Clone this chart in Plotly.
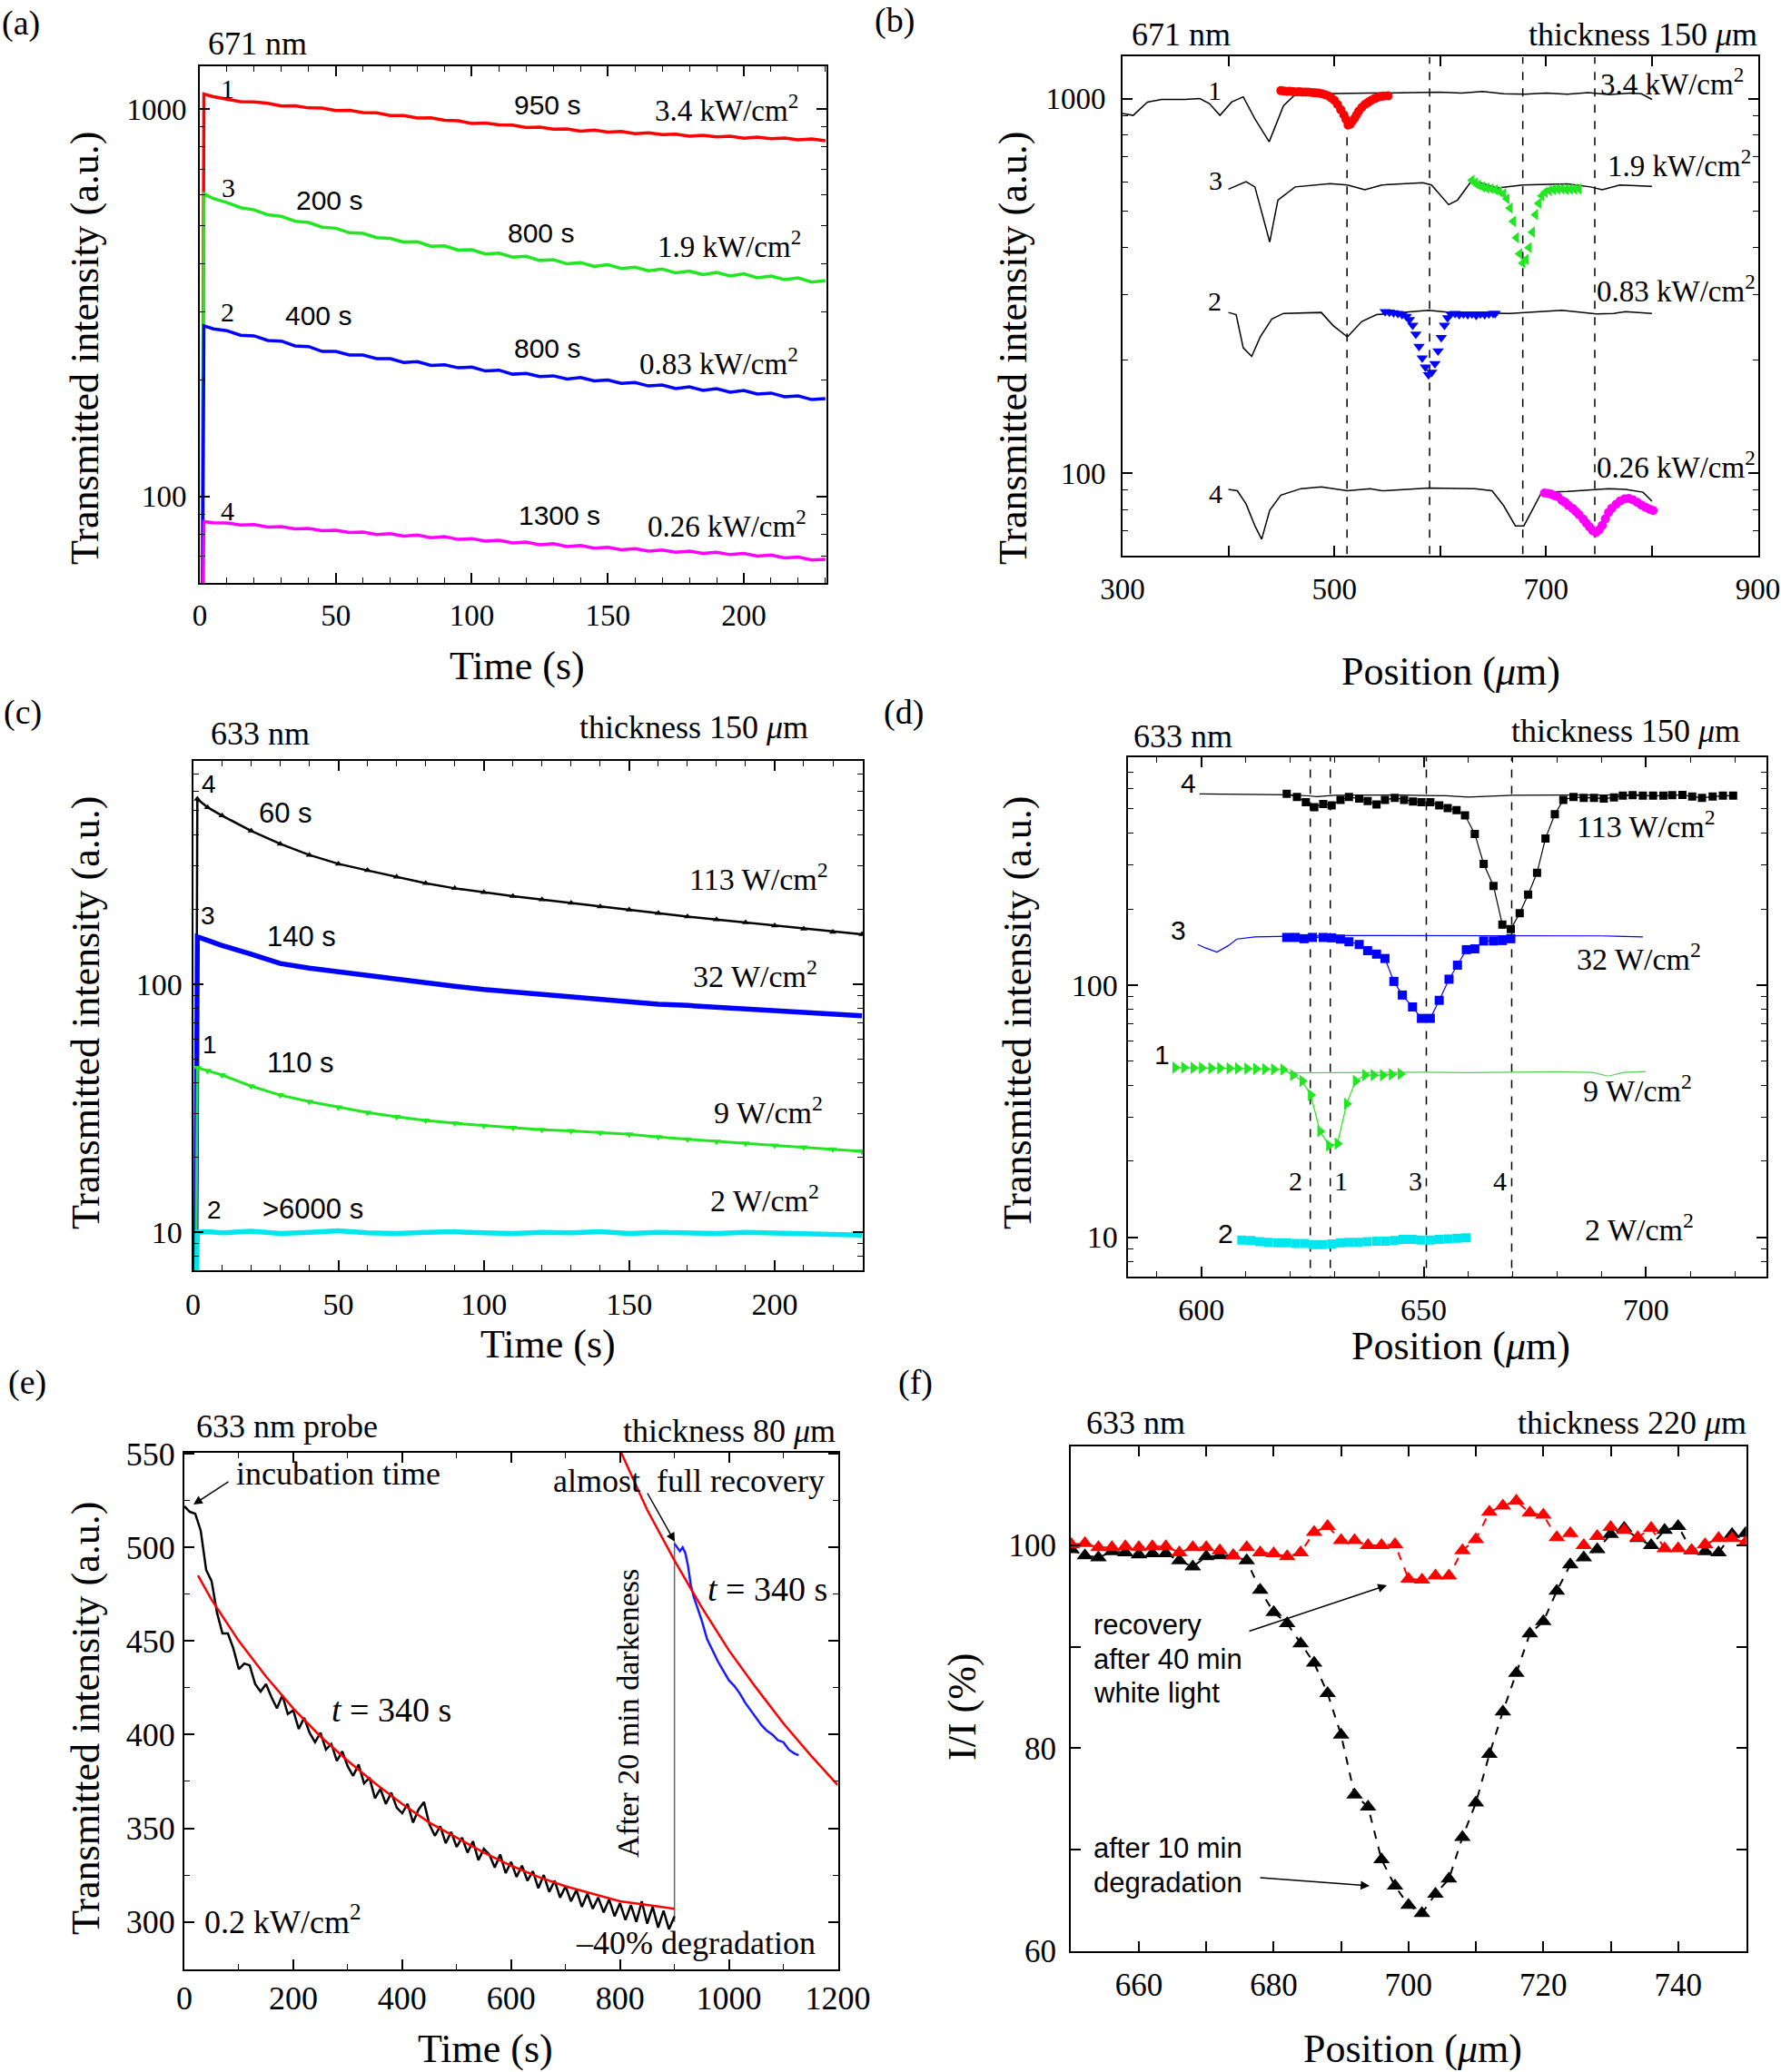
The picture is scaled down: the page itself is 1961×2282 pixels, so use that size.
import plotly.graph_objects as go

W, H = 1961, 2282
SERIF = "Liberation Serif, Times New Roman, DejaVu Serif, serif"
SANS = "Liberation Sans, Arial, DejaVu Sans, sans-serif"
RED, GREEN, BLUE, MAG, CYAN = "#ff0000", "#22e622", "#0000ff", "#ff00ff", "#00e6ee"

# ---------------- (a) 671 nm, time traces ----------------
A_T = [0.8, 1.5, 5] + list(range(10, 235, 5))
A_1 = [30, 1095, 1078, 1062, 1046, 1045, 1036, 1020, 1021, 1008, 1007, 993, 994, 981, 979, 964,
       963, 949, 950, 937, 934, 919, 921, 912, 910, 897, 899, 889, 890, 878, 884, 873, 876,
       865, 869, 860, 862, 852, 857, 849, 852, 842, 847, 840, 843, 834, 838, 829]
A_3 = [30, 605, 588, 574, 557, 550, 534, 529, 514, 510, 496, 493, 480, 478, 466, 464, 454, 455,
       443, 444, 433, 434, 423, 425, 415, 417, 407, 409, 399, 402, 393, 397, 388, 391, 383, 387,
       378, 382, 374, 379, 371, 376, 367, 371, 363, 367, 358, 361]
A_2 = [30, 276, 271, 268, 261, 260, 253, 252, 245, 244, 237, 237, 232, 232, 227, 227, 222, 223,
       218, 219, 215, 216, 211, 212, 207, 208, 204, 205, 201, 203, 199, 200, 196, 197, 193, 194,
       190, 192, 188, 190, 186, 188, 184, 185, 181, 182, 178, 179]
A_4 = [30, 86.2, 85.6, 85.5, 84.4, 84.6, 83.4, 83.6, 82.5, 82.7, 81.6, 81.8, 80.7, 81.0, 79.8,
       80.2, 79.0, 79.5, 78.3, 78.8, 77.5, 77.9, 76.7, 77.1, 75.9, 76.3, 75.1, 75.6, 74.3, 74.8,
       73.6, 74.0, 72.9, 73.4, 72.3, 72.8, 71.8, 72.3, 71.3, 71.8, 70.8, 71.3, 70.2, 70.6, 69.4,
       69.8, 68.6, 68.9]

# ---------------- (b) 671 nm, profiles ----------------
B1_LX = [300, 310, 323.5, 337, 359, 373, 382, 392, 403, 414, 425, 438.5, 452, 463, 485, 520,
         560, 600, 620, 640, 660, 680, 700, 720, 740, 760, 780, 790, 800]
B1_LY = [912, 902, 979, 995, 995, 1000, 970, 902, 979, 1011, 883, 767, 957, 1025, 1030, 1033,
         1035, 1040, 1035, 1045, 1030, 1028, 1035, 1028, 1038, 1025, 1035, 1030, 995]
B3_LX = [400, 416.6, 425, 431, 439, 446.7, 463, 496, 512.4, 528.8, 545, 583.6, 591.8, 608,
         616.4, 630, 654.7, 677.7, 720, 742, 753, 769.7, 800]
B3_LY = [573, 600, 581, 500, 414, 536, 581, 593, 588, 571, 588, 596, 588, 521, 536, 605, 577,
         588, 592, 581, 571, 588, 583]
B2_LX = [400, 407.3, 414, 422, 430, 441, 452, 487.7, 498.7, 512.4, 526, 539.8, 589, 611,
         665.7, 715, 747.6, 764, 775, 800]
B2_LY = [268.5, 265, 216, 205, 231, 258, 267, 268.5, 248, 231, 254, 265, 272, 268.5, 267,
         272, 266, 267, 270, 267]
B4_LX = [400, 408.4, 416.6, 425, 431.4, 439, 449.5, 468.6, 487.7, 512.4, 534, 545, 589, 633,
         649, 660, 671, 679, 687.6, 695.8, 720.4, 758.8, 775, 791.6, 800]
B4_LY = [90.5, 89.7, 82.8, 72.3, 66.6, 79.5, 87.3, 90.9, 91.9, 89.7, 90.9, 89.7, 91.2, 90.9,
         89.7, 81.8, 72.3, 72.3, 80.3, 88.9, 89.3, 90.9, 90.5, 88.9, 84.1]
B1_MX = [449.5, 452, 455, 458, 461, 464, 467, 470, 473, 476, 479, 482, 485, 488, 491, 494,
         497, 500, 503, 506, 509, 511, 513, 515, 517, 519, 521, 523, 526, 529, 532, 535, 538,
         541, 544, 547, 550.7]
B1_MY = [1050, 1048, 1045, 1046, 1044, 1042, 1043, 1040, 1041, 1040, 1038, 1036, 1035, 1030,
         1025, 1018, 1005, 990, 965, 935, 905, 880, 850, 855, 870, 885, 905, 925, 948, 965,
         978, 990, 1000, 1008, 1013, 1016, 1017]
B3_MX = [630, 633, 636, 640, 644, 648, 652, 656, 660, 663, 666, 669, 672, 675, 678, 681, 684,
         687, 690, 693, 696, 699, 703, 707, 711, 715, 719, 723, 727, 731]
B3_MY = [605, 595, 588, 581, 577, 575, 571, 565, 557, 540, 510, 470, 425, 385, 364, 372, 400,
         440, 490, 525, 550, 562, 568, 572, 573, 574, 572, 573, 573, 574]
B2_MX = [548, 552, 556, 560, 564, 568, 571, 574, 577, 580, 583, 586, 589, 592, 595, 598, 601,
         604, 607, 610, 614, 618, 622, 626, 630, 634, 638, 642, 646, 650, 652]
B2_MY = [270, 269, 268, 267, 265, 262, 257, 248, 235, 218, 203, 192, 183, 186, 196, 212, 230,
         248, 260, 266, 267, 265, 266, 265, 266, 264, 266, 265, 266, 267, 267]
B4_MX = [698.5, 702, 705, 708, 711, 715, 718, 721, 725, 728, 731, 735, 738, 741, 744, 747,
         750, 753, 756, 759, 762, 766, 770, 774, 778, 782, 786, 790, 794, 798, 801]
B4_MY = [88.5, 88.2, 87.8, 87.0, 86.5, 84.5, 83.5, 82.0, 80.5, 79.0, 77.5, 75.3, 73.5, 71.8,
         70.2, 69.4, 70.5, 72.5, 75.5, 78.5, 80.5, 82.5, 84.3, 85.3, 85.5, 84.8, 83.6, 82.2,
         81.0, 80.0, 79.5]
B_DASH = [512, 590, 678, 746]
B_DASH_TOP = [850, 1290, 1290, 1290]

# ---------------- (c) 633 nm, time traces ----------------
C_T = [0.8, 1.5, 5, 10, 20, 30, 40, 50, 60, 70, 80, 90, 100, 110, 120, 130, 140, 150, 160,
       170, 180, 190, 200, 210, 220, 230]
C_4 = [3, 556, 515, 477, 414, 367, 331, 305, 287, 270, 255, 243, 234, 226, 219, 212, 205,
       199, 193, 187, 182, 177, 172, 167, 162, 158.5]
C_3 = [3, 155, 150, 143, 132, 121, 116, 112, 108, 105, 101, 98, 95.2, 93, 90.6, 88.4, 86.2,
       84.2, 83, 82, 80.8, 79.5, 78.3, 77, 75.7, 74.5]
C_1 = [3, 46.0, 44.8, 43.0, 38.8, 35.7, 33.6, 31.9, 30.4, 29.2, 28.2, 27.5, 26.9, 26.4, 25.9,
       25.6, 25.2, 24.8, 24.2, 23.7, 23.2, 22.8, 22.4, 22.0, 21.6, 21.2]
C_2 = [3, 10.0, 10.05, 9.95, 10.1, 9.9, 10.0, 10.15, 9.95, 9.9, 10.0, 10.05, 9.95, 9.9, 10.0,
       9.95, 10.05, 9.9, 10.0, 9.95, 9.9, 10.0, 9.95, 9.85, 9.9, 9.75]

# ---------------- (d) 633 nm, profiles ----------------
D4_LX = [599.6, 605, 610, 615, 620, 624, 626, 630, 635, 640, 645, 650, 655, 660, 665, 670,
         680, 690, 700]
D4_LY = [572, 570, 569, 568, 567, 562, 558, 565, 566, 565, 566, 564, 563, 556, 562, 565, 566,
         566, 567]
D4_MX = [619.2, 621.5, 623.5, 625.4, 627.4, 629.3, 631.3, 633.2, 635.5, 637.4, 639.4, 641.3,
         643.5, 645.6, 647.6, 649.5, 651.5, 653.5, 655.4, 657.4, 659.3, 661.5, 663.5, 665.7,
         667.7, 669.6, 671.6, 673.5, 675.5, 677.4, 679.5, 681.4, 683.7, 686, 688.3, 690.5,
         692.8, 694.8, 697, 699.3, 701.6, 703.9, 705.9, 708.2, 710.4, 712.6, 715, 717.3, 719.6]
D4_MY = [572, 556, 530, 507, 522, 515, 541, 556, 548, 536, 519, 541, 552, 541, 534, 530, 530,
         515, 503, 493, 470, 397, 302, 247, 173.4, 166.5, 192.5, 228, 278.6, 381, 475, 541, 556,
         552, 552, 548, 554, 563, 565, 563, 563, 563, 565, 567, 558, 552, 558, 563, 563]
D3_LX = [599.2, 601, 603.5, 606, 608, 612, 620, 630, 640, 650, 660, 670, 680, 690, 699.3]
D3_LY = [144.7, 140, 135, 143, 152, 155, 156, 157, 157, 157, 157, 157, 157, 156.5, 155]
D3_MX = [619.2, 621.1, 623.1, 625, 627.4, 629.3, 631.3, 633.2, 635.5, 637.4, 639.4, 641.3,
         643.3, 645.2, 647.5, 649.5, 651.5, 653.5, 655.7, 657.6, 659.6, 661.5, 663.5, 665.7,
         667.7, 669.6]
D3_MY = [154.3, 154.3, 152.5, 154.3, 154.3, 153.7, 152, 148.3, 144.7, 136.8, 132.5, 127.3,
         103.3, 91.2, 81.8, 73.7, 73.7, 86.9, 105.4, 119.8, 138, 139, 149.4, 149.4, 150, 152.5]
D1_LX = [619.8, 630, 640, 650, 660, 670, 680, 688, 691.5, 695, 700]
D1_LY = [44.8, 44.9, 45, 45.1, 44.9, 45.2, 45.3, 45.0, 43.5, 45, 45.4]
D1_MX = [594.1, 596.1, 598.2, 600.1, 602.2, 604.2, 606.3, 608.2, 610.3, 612.3, 614.3, 616.3,
         618.4, 620.6, 622.7, 624.6, 626.7, 628.7, 630.6, 632.7, 634.7, 636.8, 638.7, 640.8,
         642.8, 644.8]
D1_MY = [47.0, 47.0, 46.9, 46.9, 46.8, 46.8, 46.7, 46.7, 46.6, 46.5, 46.4, 46.3, 46.2, 43.9,
         41.6, 36.6, 26.3, 23.1, 23.5, 33.8, 41.6, 43.9, 43.9, 43.9, 44.2, 44.4]
D2_MX = [609.1, 611.1, 613.1, 615.1, 617.2, 619.2, 621.2, 623.2, 625.2, 627.2, 629.3, 631.3,
         633.3, 635.3, 637.3, 639.4, 641.4, 643.4, 645.4, 647.4, 649.4, 651.5, 653.5, 655.5,
         657.5, 659.5]
D2_MY = [9.75, 9.7, 9.6, 9.55, 9.5, 9.5, 9.45, 9.45, 9.35, 9.35, 9.4, 9.5, 9.55, 9.55, 9.6,
         9.65, 9.65, 9.7, 9.8, 9.8, 9.75, 9.75, 9.8, 9.85, 9.9, 9.95]
D_DASH = [624.5, 629, 650.6, 669.8]
D_DASH_LABELS = ["2", "1", "3", "4"]

# ---------------- (e) 633 nm probe, degradation & recovery ----------------
E_T = list(range(0, 910, 10))
E_BLACK = [522, 519, 518, 509, 488, 482, 465, 454, 454, 446, 435, 438, 437, 427, 423, 427,
           420, 414, 421, 411, 413, 403, 409, 401, 396, 401, 392, 395, 386, 391, 383, 378,
           384, 374, 377, 366, 371, 363, 369, 361, 358, 363, 353, 360, 364, 352, 346, 351,
           342, 348, 340, 345, 337, 343, 333, 339, 336, 329, 336, 326, 332, 324, 330, 322,
           327, 318, 325, 316, 322, 313, 319, 311, 317, 308, 315, 307, 313, 305, 312, 303,
           310, 301, 309, 300, 311, 299, 308, 297, 306, 296, 303]
E_GRAY_T = [900, 900]
E_GRAY_V = [300, 503]
E_BLUE_T = [900, 905, 910, 915, 920, 925, 930, 935, 940, 945, 950, 960, 970, 980, 990, 1000,
            1010, 1020, 1030, 1040, 1050, 1060, 1070, 1080, 1090, 1100, 1110, 1120, 1128]
E_BLUE = [502, 500, 498, 500, 497, 490, 480, 474, 470, 466, 461, 451, 445, 439, 434, 429, 426,
          422, 417, 413, 409, 405, 402, 400, 397, 396, 392, 390, 389]
E_FIT1_T = [25, 50, 100, 150, 200, 250, 300, 350, 400, 450, 500, 550, 600, 650, 700, 750, 800,
            850, 900]
E_FIT1 = [485, 472, 450, 431, 414, 399, 386, 374, 363, 353, 345, 337, 330, 324, 319, 315, 311,
          309, 307]
E_FIT2_T = [800, 850, 900, 950, 1000, 1050, 1100, 1150, 1200]
E_FIT2 = [552, 520, 493, 468, 445, 425, 406, 389, 373]

# ---------------- (f) 633 nm, 220 um ----------------
F_X = list(range(650, 752, 2))
F_DEG = [99.6, 99.0, 98.8, 99.4, 99.3, 99.1, 99.2, 99.2, 98.5, 97.9, 98.9, 99.0, 99.0, 98.5,
         95.6, 93.4, 92.3, 90.3, 88.4, 85.4, 81.3, 75.4, 74.2, 69.0, 66.4, 64.5, 63.7, 65.6,
         67.1, 71.2, 74.6, 79.4, 83.6, 87.4, 91.3, 92.5, 95.5, 98.1, 98.8, 99.6, 101.1, 101.7,
         100.7, 100.0, 101.5, 101.9, 99.5, 99.4, 99.3, 101.1, 101.2]
F_REC = [100.1, 100.2, 99.8, 99.8, 99.9, 99.8, 99.9, 99.9, 99.3, 99.8, 99.8, 99.5, 99.0, 99.8,
         99.3, 99.2, 98.9, 99.3, 101.3, 101.9, 100.5, 100.5, 100.0, 100.0, 100.1, 96.7, 96.6,
         97.0, 97.0, 99.5, 100.6, 103.3, 103.9, 104.4, 103.2, 103.0, 100.8, 101.2, 100.0,
         100.9, 101.8, 101.5, 100.8, 101.7, 99.7, 99.7, 99.5, 100.1, 100.7, 100.7, 100.3]

LOG_MINOR_HI = [60, 70, 80, 90, 200, 300, 400, 500, 600, 700, 800, 900]
LOG_MINOR_LO = [8, 9, 20, 30, 40, 50, 60, 70, 80, 90, 200, 300, 400, 500, 600, 700]

fig = go.Figure()


def line(x, y, xa, ya, color, width=2, mode="lines", marker=None, dash=None):
    d = dict(x=x, y=y, xaxis=xa, yaxis=ya, mode=mode, showlegend=False,
             line=dict(color=color, width=width, dash=dash), hoverinfo="skip")
    if marker:
        d["marker"] = marker
    fig.add_trace(go.Scatter(**d))


# (a)
for ys, c in [(A_1, RED), (A_3, GREEN), (A_2, BLUE), (A_4, MAG)]:
    line(A_T, ys, "x", "y", c, 3.5)

# (b)
for i, xv in enumerate(B_DASH):
    line([xv, xv], [55, B_DASH_TOP[i]], "x2", "y2", "black", 1.5, dash="dash")
for lx, ly in [(B1_LX, B1_LY), (B3_LX, B3_LY), (B2_LX, B2_LY), (B4_LX, B4_LY)]:
    line(lx, ly, "x2", "y2", "black", 1.5)
line(B1_MX, B1_MY, "x2", "y2", RED, 1, "markers", dict(symbol="circle", size=10, color=RED))
line(B3_MX, B3_MY, "x2", "y2", GREEN, 1, "markers", dict(symbol="triangle-left", size=11, color=GREEN))
line(B2_MX, B2_MY, "x2", "y2", BLUE, 1, "markers", dict(symbol="triangle-down", size=11, color=BLUE))
line(B4_MX, B4_MY, "x2", "y2", MAG, 1, "markers", dict(symbol="circle", size=10, color=MAG))

# (c)
line(C_T, C_4, "x3", "y3", "black", 2.5, "lines+markers", dict(symbol="triangle-up", size=7, color="black"))
line(C_T, C_3, "x3", "y3", BLUE, 5.5)
line(C_T, C_1, "x3", "y3", GREEN, 3, "lines+markers", dict(symbol="triangle-down", size=8, color=GREEN))
line(C_T, C_2, "x3", "y3", CYAN, 5.5)

# (d)
for xv in D_DASH:
    line([xv, xv], [6.5, 800], "x4", "y4", "black", 1.5, dash="dash")
line(D4_LX, D4_LY, "x4", "y4", "black", 1.2)
line(D4_MX, D4_MY, "x4", "y4", "black", 1.2, "lines+markers", dict(symbol="square", size=9, color="black"))
line(D3_LX, D3_LY, "x4", "y4", BLUE, 1.2)
line(D3_MX, D3_MY, "x4", "y4", BLUE, 1.2, "lines+markers", dict(symbol="square", size=10, color=BLUE))
line(D1_LX, D1_LY, "x4", "y4", "#55cc55", 1.2)
line(D1_MX, D1_MY, "x4", "y4", GREEN, 1.2, "lines+markers", dict(symbol="triangle-right", size=12, color=GREEN))
line(D2_MX, D2_MY, "x4", "y4", CYAN, 1, "markers", dict(symbol="square", size=10, color=CYAN))

# (e)
line(E_GRAY_T, E_GRAY_V, "x5", "y5", "#666666", 1.5)
line(E_T, E_BLACK, "x5", "y5", "black", 2.5)
line(E_BLUE_T, E_BLUE, "x5", "y5", "#1a1aff", 2.5)
line(E_FIT1_T, E_FIT1, "x5", "y5", RED, 2.5)
line(E_FIT2_T, E_FIT2, "x5", "y5", RED, 2.5)

# (f)
line(F_X, F_DEG, "x6", "y6", "black", 2, "lines+markers",
     dict(symbol="triangle-up", size=16, color="black"), dash="dash")
line(F_X, F_REC, "x6", "y6", RED, 2, "lines+markers",
     dict(symbol="triangle-up", size=16, color=RED), dash="dash")


def axis(dom, rng, anchor, tickvals, ticktext=None, minor=None, fs=33, standoff=14, typ="linear"):
    d = dict(domain=dom, range=rng, anchor=anchor, type=typ, showline=True, linecolor="black",
             linewidth=2, mirror="allticks", ticks="inside", ticklen=11, tickwidth=1.6,
             tickcolor="black", tickmode="array", tickvals=tickvals, showgrid=False,
             zeroline=False, automargin=False, fixedrange=True,
             tickfont=dict(family=SERIF, size=fs, color="black"),
             ticklabelstandoff=standoff)
    if ticktext is not None:
        d["ticktext"] = ticktext
    if minor is not None:
        m = dict(ticks="inside", ticklen=6, tickwidth=1.3, tickcolor="black", showgrid=False)
        m.update(minor)
        d["minor"] = m
    return d


def xd(a, b):
    return [a / W, b / W]


def yd(top, bot):
    return [1 - bot / H, 1 - top / H]


layout = dict(
    width=W, height=H, margin=dict(l=0, r=0, t=0, b=0, pad=0, autoexpand=False),
    paper_bgcolor="white", plot_bgcolor="white", showlegend=False,
    xaxis=axis(xd(220, 910), [0, 230.4], "y", [0, 50, 100, 150, 200], minor=dict(dtick=10, tick0=0), standoff=5),
    yaxis=axis(yd(73, 642), [1.777, 3.111], "x", [100, 1000], ["100", "1000"],
               minor=dict(tickmode="array", tickvals=LOG_MINOR_HI), typ="log", standoff=6),
    xaxis2=axis(xd(1236, 1935.5), [300, 900], "y2", [300, 400, 500, 600, 700, 800, 900],
                ["300", "", "500", "", "700", "", "900"], standoff=6),
    yaxis2=axis(yd(62, 612.2), [1.779, 3.113], "x2", [100, 1000], ["100", "1000"],
                minor=dict(tickmode="array", tickvals=LOG_MINOR_HI), typ="log", standoff=10),
    xaxis3=axis(xd(212.5, 950), [0, 230.3], "y3", [0, 50, 100, 150, 200], minor=dict(dtick=10, tick0=0), fs=34, standoff=6),
    yaxis3=axis(yd(837.6, 1398.9), [0.8475, 2.9005], "x3", [10, 100], ["10", "100"],
                minor=dict(tickmode="array", tickvals=LOG_MINOR_LO), typ="log", fs=34, standoff=3),
    xaxis4=axis(xd(1241.5, 1945), [583.4, 727.1], "y4", [600, 650, 700], minor=dict(dtick=10, tick0=590), fs=34, standoff=5),
    yaxis4=axis(yd(834.2, 1406.2), [0.843, 2.902], "x4", [10, 100], ["10", "100"],
                minor=dict(tickmode="array", tickvals=LOG_MINOR_LO), typ="log", fs=34, standoff=2),
    xaxis5=axis(xd(203, 922.5), [0, 1200], "y5", [0, 200, 400, 600, 800, 1000, 1200],
                minor=dict(dtick=100, tick0=0), fs=36, standoff=-1),
    yaxis5=axis(yd(1600.1, 2168.8), [274.7, 550.5], "x5", [300, 350, 400, 450, 500, 550],
                minor=dict(dtick=25, tick0=275), fs=36, standoff=1),
    xaxis6=axis(xd(1179, 1922.7), [649.9, 750.1], "y6", list(range(650, 760, 10)),
                ["", "660", "", "680", "", "700", "", "720", "", "740", ""], fs=35, standoff=5),
    yaxis6=axis(yd(1592.7, 2149.1), [59.95, 109.8], "x6", [60, 70, 80, 90, 100],
                ["60", "", "80", "", "100"], fs=35, standoff=7),
)
fig.update_layout(**layout)

ann = []


def T(text, x, y, size, family=SERIF, xanchor="center", angle=0):
    ann.append(dict(text=text, x=x / W, y=1 - y / H, xref="paper", yref="paper", showarrow=False,
                    font=dict(size=size, family=family, color="black"), xanchor=xanchor,
                    yanchor="middle", textangle=angle))


def ARROW(tx, ty, hx, hy):
    ann.append(dict(text="", x=hx / W, y=1 - hy / H, xref="paper", yref="paper", showarrow=True,
                    ax=tx - hx, ay=ty - hy, arrowhead=2, arrowsize=1.3, arrowwidth=1.5,
                    arrowcolor="black"))


MU = "<i>μ</i>m"
YT = "Transmitted intensity (a.u.)"
# panel letters
for lab, x, y in [("(a)", 23, 25), ("(b)", 985, 22), ("(c)", 25, 784), ("(d)", 995, 784),
                  ("(e)", 30, 1522), ("(f)", 1008, 1522)]:
    T(lab, x, y, 38)
# axis titles
T("Time (s)", 569, 733, 44)
T(YT, 94, 384, 44, angle=-90)
T("Position (" + MU + ")", 1597, 739, 44)
T(YT, 1116, 384, 44, angle=-90)
T("Time (s)", 603, 1480, 44)
T(YT, 94, 1116, 44, angle=-90)
T("Position (" + MU + ")", 1608, 1482, 44)
T(YT, 1120, 1116, 44, angle=-90)
T("Time (s)", 534, 2256, 44)
T(YT, 94, 1893, 44, angle=-90)
T("Position (" + MU + ")", 1555, 2256, 44)
T("I/I (%)", 1059, 1880, 44, angle=-90)
# headers
T("671 nm", 283, 48, 36)
T("671 nm", 1300, 38, 36)
T("thickness 150 " + MU, 1809, 38, 36)
T("633 nm", 286, 808, 36)
T("thickness 150 " + MU, 764, 801, 36)
T("633 nm", 1302, 811, 36)
T("thickness 150 " + MU, 1790, 805, 36)
T("633 nm probe", 316, 1571, 36)
T("thickness 80 " + MU, 803, 1576, 36)
T("633 nm", 1250, 1567, 36)
T("thickness 220 " + MU, 1797, 1567, 36)
# (a) labels
for s, x, y in [("1", 250, 97), ("3", 252, 206), ("2", 250, 344), ("4", 250, 562)]:
    T(s, x, y, 30)
for s, x, y in [("950 s", 602, 115), ("200 s", 362, 220), ("800 s", 595, 257),
                ("400 s", 350, 348), ("800 s", 602, 384), ("1300 s", 616, 567)]:
    T(s, x, y, 30, SANS)
for s, x, y in [("3.4 kW/cm<sup>2</sup>", 800, 119), ("1.9 kW/cm<sup>2</sup>", 803, 269),
                ("0.83 kW/cm<sup>2</sup>", 791, 398), ("0.26 kW/cm<sup>2</sup>", 800, 577)]:
    T(s, x, y, 33)
# (b) labels
for s, x, y in [("1", 1337, 99), ("3", 1338, 199), ("2", 1337, 332), ("4", 1338, 543)]:
    T(s, x, y, 30)
for s, x, y in [("3.4 kW/cm<sup>2</sup>", 1841, 90), ("1.9 kW/cm<sup>2</sup>", 1849, 180),
                ("0.83 kW/cm<sup>2</sup>", 1845, 318), ("0.26 kW/cm<sup>2</sup>", 1845, 512)]:
    T(s, x, y, 33)
# (c) labels
for s, x, y in [("4", 230, 864), ("3", 229, 1008), ("1", 231, 1150), ("2", 236, 1332)]:
    T(s, x, y, 28, SANS)
for s, x, y in [("60 s", 314, 896), ("140 s", 332, 1031), ("110 s", 331, 1170),
                (">6000 s", 344, 1331)]:
    T(s, x, y, 31, SANS)
for s, x, y in [("113 W/cm<sup>2</sup>", 835, 966), ("32 W/cm<sup>2</sup>", 831, 1073),
                ("9 W/cm<sup>2</sup>", 846, 1223), ("2 W/cm<sup>2</sup>", 842, 1320)]:
    T(s, x, y, 34)
# (d) labels
for s, x, y in [("4", 1308, 862), ("3", 1297, 1024), ("1", 1279, 1162), ("2", 1349, 1358)]:
    T(s, x, y, 30, SANS)
for s, x, y in [("113 W/cm<sup>2</sup>", 1812, 908), ("32 W/cm<sup>2</sup>", 1804, 1054),
                ("9 W/cm<sup>2</sup>", 1803, 1199), ("2 W/cm<sup>2</sup>", 1805, 1352)]:
    T(s, x, y, 34)
for s, x in zip(D_DASH_LABELS, [1426, 1476, 1558, 1651]):
    T(s, x, 1300, 30)
# (e) labels
T("incubation time", 372, 1623, 36)
ARROW(253, 1631, 213, 1657)
T("almost  full recovery", 758, 1631, 36)
ARROW(712, 1643, 743, 1698)
T("<i>t</i> = 340 s", 431, 1883, 38)
T("<i>t</i> = 340 s", 845, 1750, 38)
T("After 20 min darkeness", 691, 1887, 34, angle=-90)
T("0.2 kW/cm<sup>2</sup>", 311, 2114, 36)
T("–40% degradation", 766, 2140, 36)
# (f) labels
for s, y in [("recovery", 1789), ("after 40 min", 1827), ("white light", 1864),
             ("after 10 min", 2035), ("degradation", 2073)]:
    T(s, 1202, y, 31, SANS, xanchor="left")
ARROW(1374, 1797, 1527, 1746)
ARROW(1386, 2068, 1508, 2077)

fig.update_layout(annotations=ann)
fig.write_html("out.html", config=dict(responsive=False, displayModeBar=False),
               post_script="document.body.style.margin='0px';document.body.style.padding='0px';")
